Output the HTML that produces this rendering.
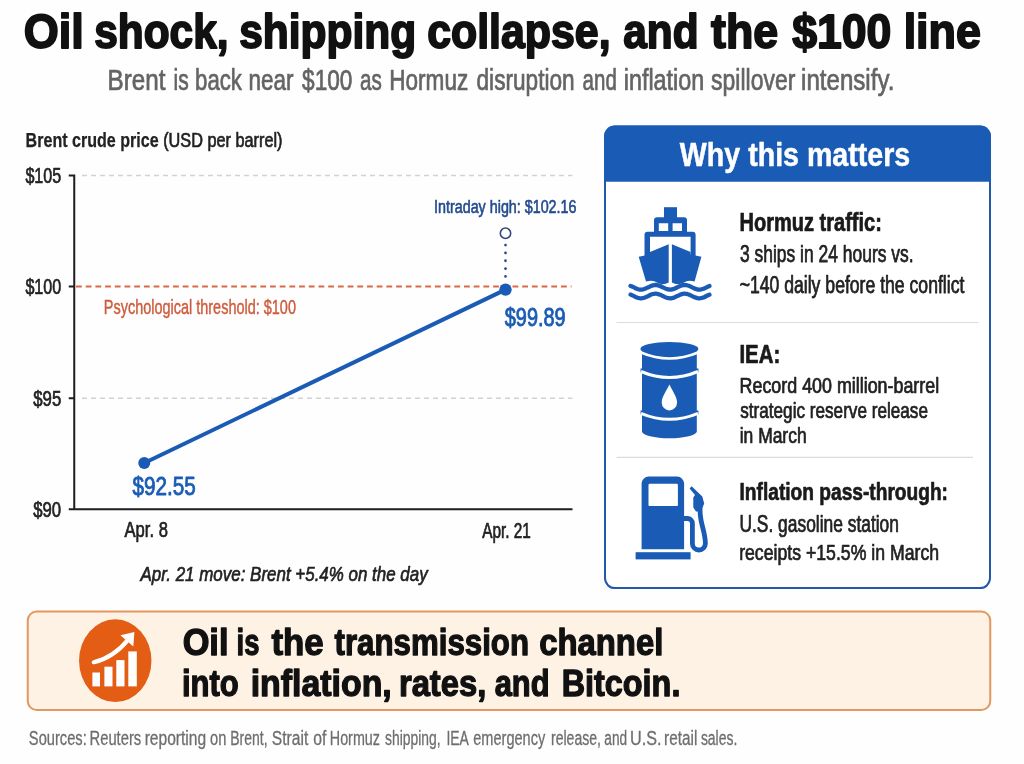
<!DOCTYPE html>
<html lang="en"><head><meta charset="utf-8"><title>Oil shock, shipping collapse, and the $100 line</title>
<style>
html,body{margin:0;padding:0;background:#fefefe;}
body{width:1024px;height:764px;overflow:hidden;font-family:"Liberation Sans",sans-serif;}
svg{display:block;filter:blur(0.5px);}
text{font-family:"Liberation Sans",sans-serif;white-space:pre;}
</style></head><body>
<svg width="1024" height="764" viewBox="0 0 1024 764">
<rect width="1024" height="764" fill="#fefefe"/>
<g id="chart">
<line x1="82" y1="175.5" x2="572.5" y2="175.5" stroke="#d2d2d2" stroke-width="1.6" stroke-dasharray="5 4"/>
<line x1="82" y1="398.3" x2="572.5" y2="398.3" stroke="#d2d2d2" stroke-width="1.6" stroke-dasharray="5 4"/>
<line x1="76" y1="286.5" x2="571.5" y2="286.5" stroke="#da6846" stroke-width="2.1" stroke-dasharray="5.8 3.9"/>
<path d="M68.75,175.5H74.25V509.3M68.75,286.4H74.25M68.75,398.3H74.25M68.75,509.3H572.5" fill="none" stroke="#1e1e1e" stroke-width="2"/>
<line x1="144.25" y1="463" x2="505.5" y2="289.6" stroke="#1a5cb5" stroke-width="4" stroke-linecap="round"/>
<circle cx="144.25" cy="463" r="6" fill="#1a5cb5"/>
<circle cx="505.5" cy="289.6" r="6.2" fill="#1a5cb5"/>
<line x1="505.5" y1="245" x2="505.5" y2="277" stroke="#234b8e" stroke-width="2.7" stroke-dasharray="0.1 7.75" stroke-linecap="round"/>
<circle cx="505.5" cy="233.25" r="5.2" fill="#fff" stroke="#344a78" stroke-width="1.6"/>
</g>
<g id="panel">
<rect x="605" y="126.6" width="385" height="461.5" rx="10" ry="10" fill="#fff" stroke="#2259ab" stroke-width="2"/>
<path d="M604,181.8V136.6A11,11 0 0 1 615,125.6H980A11,11 0 0 1 991,136.6V181.8Z" fill="#1a5cb5"/>
<line x1="616.5" y1="322.5" x2="978.5" y2="322.5" stroke="#dcdcdc" stroke-width="1.2"/>
<line x1="616.5" y1="457.3" x2="973" y2="457.3" stroke="#dcdcdc" stroke-width="1.2"/>
</g>
<g id="ship" fill="#1a5cb5">
<rect x="664" y="207.2" width="13" height="12"/>
<path fill-rule="evenodd" d="M657,217.3H684A3,3 0 0 1 687,220.3V233H654V220.3A3,3 0 0 1 657,217.3ZM658.8,223.2V231H668.2V223.2ZM672.6,223.2V231H682V223.2Z"/>
<path fill-rule="evenodd" d="M647.5,231.7H692.6A3,3 0 0 1 695.6,234.7V256H644.5V234.7A3,3 0 0 1 647.5,231.7ZM650,236.8V256H690.6V236.8Z"/>
<path d="M668.7,244.3L650,252V254.5L638.7,256.8L646,281.5Q653,279.5 657,282.5Q662.5,285.8 668.7,282.5ZM671.9,244.3L690.6,252V254.5L701.4,256.8L694.6,281.5Q688,279.5 684,282.5Q678,285.8 671.9,282.5Z"/>
<path d="M630.5,285.9 L631.5,286.3 L632.5,286.7 L633.5,287.2 L634.5,287.7 L635.4,288.2 L636.4,288.6 L637.4,289.0 L638.4,289.3 L639.4,289.5 L640.4,289.6 L641.4,289.6 L642.4,289.5 L643.3,289.3 L644.3,289.0 L645.3,288.6 L646.3,288.2 L647.3,287.7 L648.3,287.3 L649.3,286.8 L650.2,286.3 L651.2,285.9 L652.2,285.5 L653.2,285.3 L654.2,285.1 L655.2,285.0 L656.2,285.0 L657.2,285.1 L658.1,285.4 L659.1,285.7 L660.1,286.0 L661.1,286.5 L662.1,287.0 L663.1,287.4 L664.1,287.9 L665.1,288.4 L666.0,288.8 L667.0,289.1 L668.0,289.4 L669.0,289.5 L670.0,289.6 L671.0,289.6 L672.0,289.4 L673.0,289.2 L674.0,288.9 L674.9,288.5 L675.9,288.0 L676.9,287.5 L677.9,287.1 L678.9,286.6 L679.9,286.1 L680.9,285.7 L681.9,285.4 L682.8,285.2 L683.8,285.0 L684.8,285.0 L685.8,285.1 L686.8,285.2 L687.8,285.5 L688.8,285.8 L689.8,286.2 L690.7,286.7 L691.7,287.2 L692.7,287.7 L693.7,288.1 L694.7,288.6 L695.7,288.9 L696.7,289.2 L697.6,289.5 L698.6,289.6 L699.6,289.6 L700.6,289.5 L701.6,289.3 L702.6,289.0 L703.6,288.7 L704.6,288.3 L705.5,287.8 L706.5,287.3 L707.5,286.8 L708.5,286.4 L709.5,286.0" fill="none" stroke="#1a5cb5" stroke-width="4.3" stroke-linecap="round" stroke-linejoin="round"/>
<path d="M630.5,294.6 L631.5,295.0 L632.5,295.4 L633.5,295.9 L634.5,296.4 L635.4,296.9 L636.4,297.3 L637.4,297.7 L638.4,298.0 L639.4,298.2 L640.4,298.3 L641.4,298.3 L642.4,298.2 L643.3,298.0 L644.3,297.7 L645.3,297.3 L646.3,296.9 L647.3,296.4 L648.3,296.0 L649.3,295.5 L650.2,295.0 L651.2,294.6 L652.2,294.2 L653.2,294.0 L654.2,293.8 L655.2,293.7 L656.2,293.7 L657.2,293.8 L658.1,294.1 L659.1,294.4 L660.1,294.7 L661.1,295.2 L662.1,295.7 L663.1,296.1 L664.1,296.6 L665.1,297.1 L666.0,297.5 L667.0,297.8 L668.0,298.1 L669.0,298.2 L670.0,298.3 L671.0,298.3 L672.0,298.1 L673.0,297.9 L674.0,297.6 L674.9,297.2 L675.9,296.7 L676.9,296.2 L677.9,295.8 L678.9,295.3 L679.9,294.8 L680.9,294.4 L681.9,294.1 L682.8,293.9 L683.8,293.7 L684.8,293.7 L685.8,293.8 L686.8,293.9 L687.8,294.2 L688.8,294.5 L689.8,294.9 L690.7,295.4 L691.7,295.9 L692.7,296.4 L693.7,296.8 L694.7,297.3 L695.7,297.6 L696.7,297.9 L697.6,298.2 L698.6,298.3 L699.6,298.3 L700.6,298.2 L701.6,298.0 L702.6,297.7 L703.6,297.4 L704.6,297.0 L705.5,296.5 L706.5,296.0 L707.5,295.5 L708.5,295.1 L709.5,294.7" fill="none" stroke="#1a5cb5" stroke-width="4.3" stroke-linecap="round" stroke-linejoin="round"/>
</g>
<g id="barrel">
<path d="M642,350V431.5A27.4,6.8 0 0 0 696.8,431.5V350Z" fill="#1a5cb5"/>
<path d="M640.6,368.5V372.5Q669.4,384 698.4,372.5V368.5ZM640.6,410.5V414.5Q669.4,426 698.4,414.5V410.5Z" fill="#1a5cb5"/>
<ellipse cx="669.4" cy="349" rx="29" ry="7" fill="#1a5cb5"/>
<path d="M641,352.5Q669.4,364.5 698,352.5" fill="none" stroke="#fff" stroke-width="2.5"/>
<path d="M641,371.5Q669.4,383.5 698,371.5" fill="none" stroke="#fff" stroke-width="3"/>
<path d="M641,413.3Q669.4,425.3 698,413.3" fill="none" stroke="#fff" stroke-width="3"/>
<path d="M669.4,384.6C667,390 661.7,397 661.7,402.5A7.7,7.9 0 0 0 677.1,402.5C677.1,397 671.8,390 669.4,384.6Z" fill="#fff"/>
</g>
<g id="pump" fill="#1a5cb5">
<path d="M641.6,549.3V483.6A7,7 0 0 1 648.6,476.6H677.1A7,7 0 0 1 684.1,483.6V549.3Z"/>
<rect x="648.5" y="483.8" width="29.4" height="22.3" rx="1.2" fill="#fff"/>
<rect x="635.6" y="552.2" width="55" height="7.2"/>
<path d="M683,518.5H687.5A5,5 0 0 1 692.4,523.5V543.5A6.5,6.5 0 0 0 705.4,543.5C705.4,535 702.5,528 701,520C700,515 700,512 700,508" fill="none" stroke="#1a5cb5" stroke-width="4.8" stroke-linecap="round"/>
<path d="M689.6,488.6L691.6,486.2L702.3,496.5L704.2,503.5L701,511.5L696,511.5L693.3,507.5V497.5L695,495Z"/>
</g>
<g id="banner">
<rect x="27.75" y="611.5" width="962.5" height="98.5" rx="9" ry="9" fill="#fef2e5" stroke="#e2975f" stroke-width="2"/>
<ellipse cx="115.25" cy="660.7" rx="36.2" ry="41.4" fill="#e35d14"/>
<g fill="#fff">
<rect x="92.4" y="672.5" width="7.6" height="13.9"/>
<rect x="104.4" y="666.7" width="8.1" height="19.7"/>
<rect x="116.3" y="660.1" width="8.2" height="26.3"/>
<rect x="128.3" y="651.4" width="8.5" height="35"/>
<path d="M93.8,662.2Q113.5,657.5 128,639.8" fill="none" stroke="#fff" stroke-width="4.2" stroke-linecap="round"/>
<path d="M120.4,635.2L134.4,631.9L133.3,646.4Z"/>
</g>
</g>

<g id="texts">
<text id="title" y="48.20" font-size="48.82" font-weight="bold" font-style="normal" fill="#111" stroke="#111" stroke-width="1.90" stroke-linejoin="round"><tspan id="title_0" x="23.73" textLength="60.09" lengthAdjust="spacingAndGlyphs">Oil</tspan> <tspan id="title_1" x="94.21" textLength="134.36" lengthAdjust="spacingAndGlyphs">shock,</tspan> <tspan id="title_2" x="239.21" textLength="176.89" lengthAdjust="spacingAndGlyphs">shipping</tspan> <tspan id="title_3" x="427.21" textLength="183.36" lengthAdjust="spacingAndGlyphs">collapse,</tspan> <tspan id="title_4" x="623.20" textLength="75.34" lengthAdjust="spacingAndGlyphs">and</tspan> <tspan id="title_5" x="711.00" textLength="67.15" lengthAdjust="spacingAndGlyphs">the</tspan> <tspan id="title_6" x="792.24" textLength="99.17" lengthAdjust="spacingAndGlyphs">$100</tspan> <tspan id="title_7" x="903.63" textLength="77.30" lengthAdjust="spacingAndGlyphs">line</tspan></text>
<text id="sub" y="90.10" font-size="28.62" font-weight="normal" font-style="normal" fill="#646464" stroke="#646464" stroke-width="0.70" stroke-linejoin="round"><tspan id="sub_0" x="107.48" textLength="57.93" lengthAdjust="spacingAndGlyphs">Brent</tspan> <tspan id="sub_1" x="173.59" textLength="15.15" lengthAdjust="spacingAndGlyphs">is</tspan> <tspan id="sub_2" x="195.10" textLength="46.87" lengthAdjust="spacingAndGlyphs">back</tspan> <tspan id="sub_3" x="248.48" textLength="45.01" lengthAdjust="spacingAndGlyphs">near</tspan> <tspan id="sub_4" x="302.12" textLength="50.26" lengthAdjust="spacingAndGlyphs">$100</tspan> <tspan id="sub_5" x="360.01" textLength="21.78" lengthAdjust="spacingAndGlyphs">as</tspan> <tspan id="sub_6" x="389.24" textLength="79.03" lengthAdjust="spacingAndGlyphs">Hormuz</tspan> <tspan id="sub_7" x="476.53" textLength="98.11" lengthAdjust="spacingAndGlyphs">disruption</tspan> <tspan id="sub_8" x="582.62" textLength="34.18" lengthAdjust="spacingAndGlyphs">and</tspan> <tspan id="sub_9" x="623.70" textLength="80.58" lengthAdjust="spacingAndGlyphs">inflation</tspan> <tspan id="sub_10" x="711.12" textLength="84.18" lengthAdjust="spacingAndGlyphs">spillover</tspan> <tspan id="sub_11" x="801.09" textLength="93.28" lengthAdjust="spacingAndGlyphs">intensify.</tspan></text>
<text id="ct1" x="25.62" y="147.20" font-size="20.11" font-weight="bold" font-style="normal" fill="#222" stroke="#222" stroke-width="0.25" stroke-linejoin="round" textLength="132.99" lengthAdjust="spacingAndGlyphs">Brent crude price</text>
<text id="ct2" x="163.18" y="147.20" font-size="19.47" font-weight="normal" font-style="normal" fill="#222" stroke="#222" stroke-width="0.67" stroke-linejoin="round" textLength="119.35" lengthAdjust="spacingAndGlyphs">(USD per barrel)</text>
<text id="y105" x="25.40" y="182.60" font-size="21.92" font-weight="normal" font-style="normal" fill="#222" stroke="#222" stroke-width="0.72" stroke-linejoin="round" textLength="35.83" lengthAdjust="spacingAndGlyphs">$105</text>
<text id="y100" x="25.40" y="293.90" font-size="21.92" font-weight="normal" font-style="normal" fill="#222" stroke="#222" stroke-width="0.72" stroke-linejoin="round" textLength="35.82" lengthAdjust="spacingAndGlyphs">$100</text>
<text id="y95" x="33.25" y="405.60" font-size="21.92" font-weight="normal" font-style="normal" fill="#222" stroke="#222" stroke-width="0.72" stroke-linejoin="round" textLength="27.97" lengthAdjust="spacingAndGlyphs">$95</text>
<text id="y90" x="33.26" y="517.10" font-size="21.92" font-weight="normal" font-style="normal" fill="#222" stroke="#222" stroke-width="0.72" stroke-linejoin="round" textLength="27.89" lengthAdjust="spacingAndGlyphs">$90</text>
<text id="psy" x="103.81" y="313.50" font-size="20.07" font-weight="normal" font-style="normal" fill="#cf5c3d" stroke="#cf5c3d" stroke-width="0.45" stroke-linejoin="round" textLength="192.14" lengthAdjust="spacingAndGlyphs">Psychological threshold: $100</text>
<text id="intra" x="434.09" y="212.60" font-size="18.00" font-weight="normal" font-style="normal" fill="#234b8e" stroke="#234b8e" stroke-width="0.62" stroke-linejoin="round" textLength="142.39" lengthAdjust="spacingAndGlyphs">Intraday high: $102.16</text>
<text id="p2" x="504.77" y="326.25" font-size="24.88" font-weight="normal" font-style="normal" fill="#1a5cb5" stroke="#1a5cb5" stroke-width="0.85" stroke-linejoin="round" textLength="60.90" lengthAdjust="spacingAndGlyphs">$99.89</text>
<text id="p1" x="132.57" y="495.00" font-size="24.88" font-weight="normal" font-style="normal" fill="#1a5cb5" stroke="#1a5cb5" stroke-width="0.85" stroke-linejoin="round" textLength="63.23" lengthAdjust="spacingAndGlyphs">$92.55</text>
<text id="x1" x="124.49" y="537.20" font-size="21.83" font-weight="normal" font-style="normal" fill="#222" stroke="#222" stroke-width="0.69" stroke-linejoin="round" textLength="43.39" lengthAdjust="spacingAndGlyphs">Apr. 8</text>
<text id="x2" x="482.23" y="537.70" font-size="21.83" font-weight="normal" font-style="normal" fill="#222" stroke="#222" stroke-width="0.69" stroke-linejoin="round" textLength="48.71" lengthAdjust="spacingAndGlyphs">Apr. 21</text>
<text id="move" x="140.52" y="580.50" font-size="20.60" font-weight="normal" font-style="italic" fill="#222" stroke="#222" stroke-width="0.66" stroke-linejoin="round" textLength="287.18" lengthAdjust="spacingAndGlyphs">Apr. 21 move: Brent +5.4% on the day</text>
<text id="why" x="679.85" y="165.80" font-size="33.82" font-weight="bold" font-style="normal" fill="#fff" stroke="#fff" stroke-width="0.50" stroke-linejoin="round" textLength="230.40" lengthAdjust="spacingAndGlyphs">Why this matters</text>
<text id="h1" x="739.49" y="230.60" font-size="25.17" font-weight="bold" font-style="normal" fill="#1a1a1a" stroke="#1a1a1a" stroke-width="0.70" stroke-linejoin="round" textLength="142.43" lengthAdjust="spacingAndGlyphs">Hormuz traffic:</text>
<text id="h1a" x="740.02" y="261.70" font-size="23.49" font-weight="normal" font-style="normal" fill="#222" stroke="#222" stroke-width="0.75" stroke-linejoin="round" textLength="173.53" lengthAdjust="spacingAndGlyphs">3 ships in 24 hours vs.</text>
<text id="h1b" x="739.63" y="293.40" font-size="23.07" font-weight="normal" font-style="normal" fill="#222" stroke="#222" stroke-width="0.75" stroke-linejoin="round" textLength="224.77" lengthAdjust="spacingAndGlyphs">~140 daily before the conflict</text>
<text id="h2" x="739.43" y="362.60" font-size="25.07" font-weight="bold" font-style="normal" fill="#1a1a1a" stroke="#1a1a1a" stroke-width="0.70" stroke-linejoin="round" textLength="40.77" lengthAdjust="spacingAndGlyphs">IEA:</text>
<text id="h2a" x="739.57" y="392.80" font-size="21.25" font-weight="normal" font-style="normal" fill="#222" stroke="#222" stroke-width="0.74" stroke-linejoin="round" textLength="199.63" lengthAdjust="spacingAndGlyphs">Record 400 million-barrel</text>
<text id="h2b" x="740.21" y="417.50" font-size="22.28" font-weight="normal" font-style="normal" fill="#222" stroke="#222" stroke-width="0.74" stroke-linejoin="round" textLength="187.77" lengthAdjust="spacingAndGlyphs">strategic reserve release</text>
<text id="h2c" x="739.72" y="442.50" font-size="22.17" font-weight="normal" font-style="normal" fill="#222" stroke="#222" stroke-width="0.74" stroke-linejoin="round" textLength="66.88" lengthAdjust="spacingAndGlyphs">in March</text>
<text id="h3" x="739.54" y="500.00" font-size="24.10" font-weight="bold" font-style="normal" fill="#1a1a1a" stroke="#1a1a1a" stroke-width="0.70" stroke-linejoin="round" textLength="208.46" lengthAdjust="spacingAndGlyphs">Inflation pass-through:</text>
<text id="h3a" x="739.48" y="531.80" font-size="23.09" font-weight="normal" font-style="normal" fill="#222" stroke="#222" stroke-width="0.74" stroke-linejoin="round" textLength="159.45" lengthAdjust="spacingAndGlyphs">U.S. gasoline station</text>
<text id="h3b" x="739.16" y="559.80" font-size="22.89" font-weight="normal" font-style="normal" fill="#222" stroke="#222" stroke-width="0.74" stroke-linejoin="round" textLength="199.95" lengthAdjust="spacingAndGlyphs">receipts +15.5% in March</text>
<text id="b1" y="654.90" font-size="36.98" font-weight="bold" font-style="normal" fill="#111" stroke="#111" stroke-width="1.30" stroke-linejoin="round"><tspan id="b1_0" x="182.63" textLength="45.87" lengthAdjust="spacingAndGlyphs">Oil</tspan> <tspan id="b1_1" x="236.59" textLength="22.82" lengthAdjust="spacingAndGlyphs">is</tspan> <tspan id="b1_2" x="271.41" textLength="52.27" lengthAdjust="spacingAndGlyphs">the</tspan> <tspan id="b1_3" x="334.55" textLength="194.45" lengthAdjust="spacingAndGlyphs">transmission</tspan> <tspan id="b1_4" x="539.16" textLength="124.18" lengthAdjust="spacingAndGlyphs">channel</tspan></text>
<text id="b2" y="695.70" font-size="36.26" font-weight="bold" font-style="normal" fill="#111" stroke="#111" stroke-width="1.30" stroke-linejoin="round"><tspan id="b2_0" x="181.99" textLength="56.82" lengthAdjust="spacingAndGlyphs">into</tspan> <tspan id="b2_1" x="250.64" textLength="141.13" lengthAdjust="spacingAndGlyphs">inflation,</tspan> <tspan id="b2_2" x="398.92" textLength="87.36" lengthAdjust="spacingAndGlyphs">rates,</tspan> <tspan id="b2_3" x="494.71" textLength="54.87" lengthAdjust="spacingAndGlyphs">and</tspan> <tspan id="b2_4" x="561.69" textLength="118.70" lengthAdjust="spacingAndGlyphs">Bitcoin.</tspan></text>
<text id="src" y="745.25" font-size="19.57" font-weight="normal" font-style="normal" fill="#6e6e6e" stroke="#6e6e6e" stroke-width="0.30" stroke-linejoin="round"><tspan id="src_0" x="28.86" textLength="57.86" lengthAdjust="spacingAndGlyphs">Sources:</tspan> <tspan id="src_1" x="89.51" textLength="51.74" lengthAdjust="spacingAndGlyphs">Reuters</tspan> <tspan id="src_2" x="144.64" textLength="61.45" lengthAdjust="spacingAndGlyphs">reporting</tspan> <tspan id="src_3" x="210.02" textLength="16.27" lengthAdjust="spacingAndGlyphs">on</tspan> <tspan id="src_4" x="230.19" textLength="37.37" lengthAdjust="spacingAndGlyphs">Brent,</tspan> <tspan id="src_5" x="271.76" textLength="36.48" lengthAdjust="spacingAndGlyphs">Strait</tspan> <tspan id="src_6" x="313.16" textLength="13.15" lengthAdjust="spacingAndGlyphs">of</tspan> <tspan id="src_7" x="329.79" textLength="50.19" lengthAdjust="spacingAndGlyphs">Hormuz</tspan> <tspan id="src_8" x="385.02" textLength="55.55" lengthAdjust="spacingAndGlyphs">shipping,</tspan> <tspan id="src_9" x="446.39" textLength="21.69" lengthAdjust="spacingAndGlyphs">IEA</tspan> <tspan id="src_10" x="473.27" textLength="71.92" lengthAdjust="spacingAndGlyphs">emergency</tspan> <tspan id="src_11" x="550.95" textLength="50.07" lengthAdjust="spacingAndGlyphs">release,</tspan> <tspan id="src_12" x="604.32" textLength="22.78" lengthAdjust="spacingAndGlyphs">and</tspan> <tspan id="src_13" x="630.05" textLength="31.46" lengthAdjust="spacingAndGlyphs">U.S.</tspan> <tspan id="src_14" x="664.04" textLength="33.29" lengthAdjust="spacingAndGlyphs">retail</tspan> <tspan id="src_15" x="700.89" textLength="36.45" lengthAdjust="spacingAndGlyphs">sales.</tspan></text>
</g>
</svg>
</body></html>
